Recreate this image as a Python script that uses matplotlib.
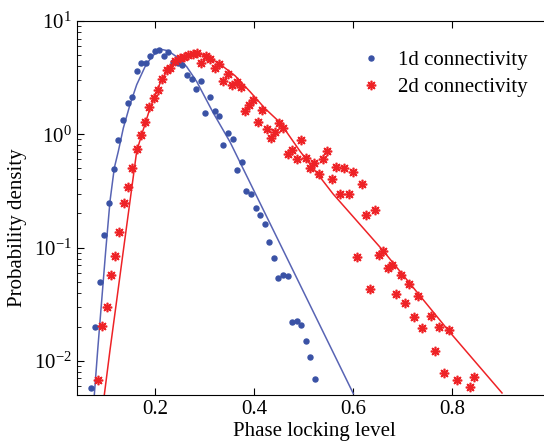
import matplotlib
matplotlib.use('Agg')
import matplotlib.pyplot as plt

plt.rcParams['font.family'] = ['Liberation Serif', 'DejaVu Serif']
plt.rcParams['mathtext.fontset'] = 'custom'
plt.rcParams['mathtext.rm'] = 'Liberation Serif'
plt.rcParams['mathtext.it'] = 'Liberation Serif:italic'
plt.rcParams['font.size'] = 15

# 1d connectivity - histogram points
x_1d = [0.0707, 0.0788, 0.0889, 0.0970, 0.1071, 0.1172, 0.1253, 0.1354, 0.1455, 0.1535,
        0.1636, 0.1717, 0.1818, 0.1899, 0.2000, 0.2081, 0.2182, 0.2263, 0.2364, 0.2465,
        0.2545, 0.2646, 0.2747, 0.2828, 0.2929, 0.3010, 0.3111, 0.3212, 0.3293, 0.3374,
        0.3475, 0.3576, 0.3657, 0.3758, 0.3838, 0.3939, 0.4040, 0.4121, 0.4222, 0.4303,
        0.4404, 0.4485, 0.4586, 0.4687, 0.4768, 0.4869, 0.4949, 0.5051, 0.5131, 0.5232]
p_1d = [0.0058, 0.0199, 0.0493, 0.130, 0.248, 0.493, 0.886, 1.33, 1.87, 2.15,
        3.64, 4.28, 4.28, 4.93, 5.46, 5.57, 4.93, 5.35, 4.37, 4.28,
        4.11, 3.36, 3.10, 2.53, 2.98, 1.53, 2.15, 1.59, 1.44, 0.801,
        1.02, 0.904, 0.483, 0.568, 0.316, 0.298, 0.224, 0.195, 0.162, 0.113,
        0.0817, 0.0535, 0.0568, 0.0557, 0.0220, 0.0224, 0.0207, 0.0150, 0.0108, 0.00695]

# 1d connectivity - fitted curve
fit_x_1d = [0.0774, 0.0842, 0.0923, 0.1004, 0.1091, 0.1178, 0.1259, 0.1360, 0.1495, 0.1630,
            0.1798, 0.1933, 0.2101, 0.2263, 0.2438, 0.2640, 0.2842, 0.3178, 0.3515, 0.4592, 0.6006]
fit_p_1d = [0.00503, 0.0125, 0.0343, 0.0941, 0.258, 0.506, 0.709, 1.136, 1.83, 2.74,
            3.95, 4.83, 5.65, 5.46, 4.83, 3.95, 2.92, 1.54, 0.856, 0.0941, 0.00514]

# 2d connectivity - histogram points
x_2d = [0.0855, 0.0935, 0.1024, 0.1105, 0.1192, 0.1279, 0.1368, 0.1455, 0.1541, 0.1630,
        0.1707, 0.1802, 0.1885, 0.1976, 0.2065, 0.2147, 0.2232, 0.2309, 0.2400, 0.2495,
        0.2580, 0.2667, 0.2758, 0.2838, 0.2933, 0.3026, 0.3111, 0.3206, 0.3289, 0.3374,
        0.3469, 0.3562, 0.3651, 0.3731, 0.3818, 0.3905, 0.3986, 0.4077, 0.4166, 0.4253,
        0.4337, 0.4420, 0.4509, 0.4592, 0.4685, 0.4776, 0.4863, 0.4949, 0.5040, 0.5125,
        0.5216, 0.5303, 0.5388, 0.5477, 0.5566, 0.5655, 0.5737, 0.5824, 0.5911, 0.6000,
        0.6087, 0.6176, 0.6267, 0.6343, 0.6434, 0.6525, 0.6612, 0.6701, 0.6794, 0.6875,
        0.6964, 0.7051, 0.7137, 0.7226, 0.7307, 0.7400, 0.7570, 0.7657, 0.7743, 0.7838,
        0.7933, 0.8101, 0.8364, 0.8444]
p_2d = [0.00681, 0.0204, 0.0296, 0.0577, 0.0839, 0.138, 0.248, 0.343, 0.500, 0.746,
        0.980, 1.29, 1.73, 2.07, 2.48, 3.05, 3.70, 3.85, 4.40, 4.67,
        4.83, 5.06, 5.08, 5.24, 4.27, 4.93, 4.58, 3.85, 4.17, 2.96,
        3.40, 2.71, 2.87, 2.64, 1.59, 1.80, 1.99, 1.29, 1.65, 1.12,
        0.923, 1.04, 1.26, 1.14, 0.664, 0.724, 0.600, 0.899, 0.616, 0.503,
        0.560, 0.443, 0.600, 0.719, 0.407, 0.511, 0.298, 0.508, 0.298, 0.469,
        0.0834, 0.362, 0.193, 0.0428, 0.214, 0.0863, 0.0941, 0.0658, 0.0695, 0.0393,
        0.0577, 0.0325, 0.0481, 0.0245, 0.0374, 0.0194, 0.0248, 0.0123, 0.0200, 0.00780,
        0.0187, 0.00681, 0.00583, 0.00719]

# 2d connectivity - fitted curve
fit_x_2d = [0.0976, 0.1091, 0.1226, 0.1360, 0.1495, 0.1630, 0.1731, 0.1899, 0.2101, 0.2269,
            0.2471, 0.2707, 0.2875, 0.3111, 0.3354, 0.3616, 0.3919, 0.4222, 0.4525, 0.4929,
            0.5596, 0.6606, 0.7919, 0.9010]
fit_p_2d = [0.00503, 0.0125, 0.0343, 0.0941, 0.258, 0.709, 0.994, 1.70, 2.82, 3.82,
            4.67, 5.08, 5.19, 4.73, 4.03, 3.29, 2.38, 1.69, 1.27, 0.709,
            0.298, 0.0941, 0.0187, 0.00521]

blue = '#3a52a5'
blue_line = '#5864b4'
red = '#ee2226'

fig = plt.figure(figsize=(5.44, 4.44), dpi=100)
ax = fig.add_axes([0.1412, 0.1104, 0.8717, 0.8423])

ax.plot(fit_x_1d, fit_p_1d, color=blue_line, lw=1.1, zorder=2)
ax.plot(fit_x_2d, fit_p_2d, color=red, lw=1.1, zorder=2)
ax.plot(x_1d, p_1d, ls='none', marker='o', ms=3.6, color=blue, mec=blue,
        label='1d connectivity', zorder=3)
ax.plot(x_2d, p_2d, ls='none', marker=(8, 2, 0), ms=6.8, mew=1.2, color=red,
        label='2d connectivity', zorder=3)

ax.set_yscale('log')
ax.set_xlim(0.042, 1.0)
ax.set_ylim(0.005, 10)
ax.set_xticks([0.2, 0.4, 0.6, 0.8])
ax.set_xticklabels(['0.2', '0.4', '0.6', '0.8'])
ax.tick_params(which='both', direction='in', top=True, right=True)
ax.tick_params(which='major', length=5)
ax.tick_params(which='minor', length=3)
ax.tick_params(axis='x', which='minor', bottom=False, top=False)

ax.set_xlabel('Phase locking level', labelpad=2)
ax.set_ylabel('Probability density')
ax.yaxis.set_label_coords(-0.105, 0.447)

ax.legend(loc='upper right', bbox_to_anchor=(0.99, 0.971), frameon=False,
          numpoints=1, handlelength=1.0, handletextpad=0.8, labelspacing=0.35)

fig.savefig('out.png', dpi=100)
